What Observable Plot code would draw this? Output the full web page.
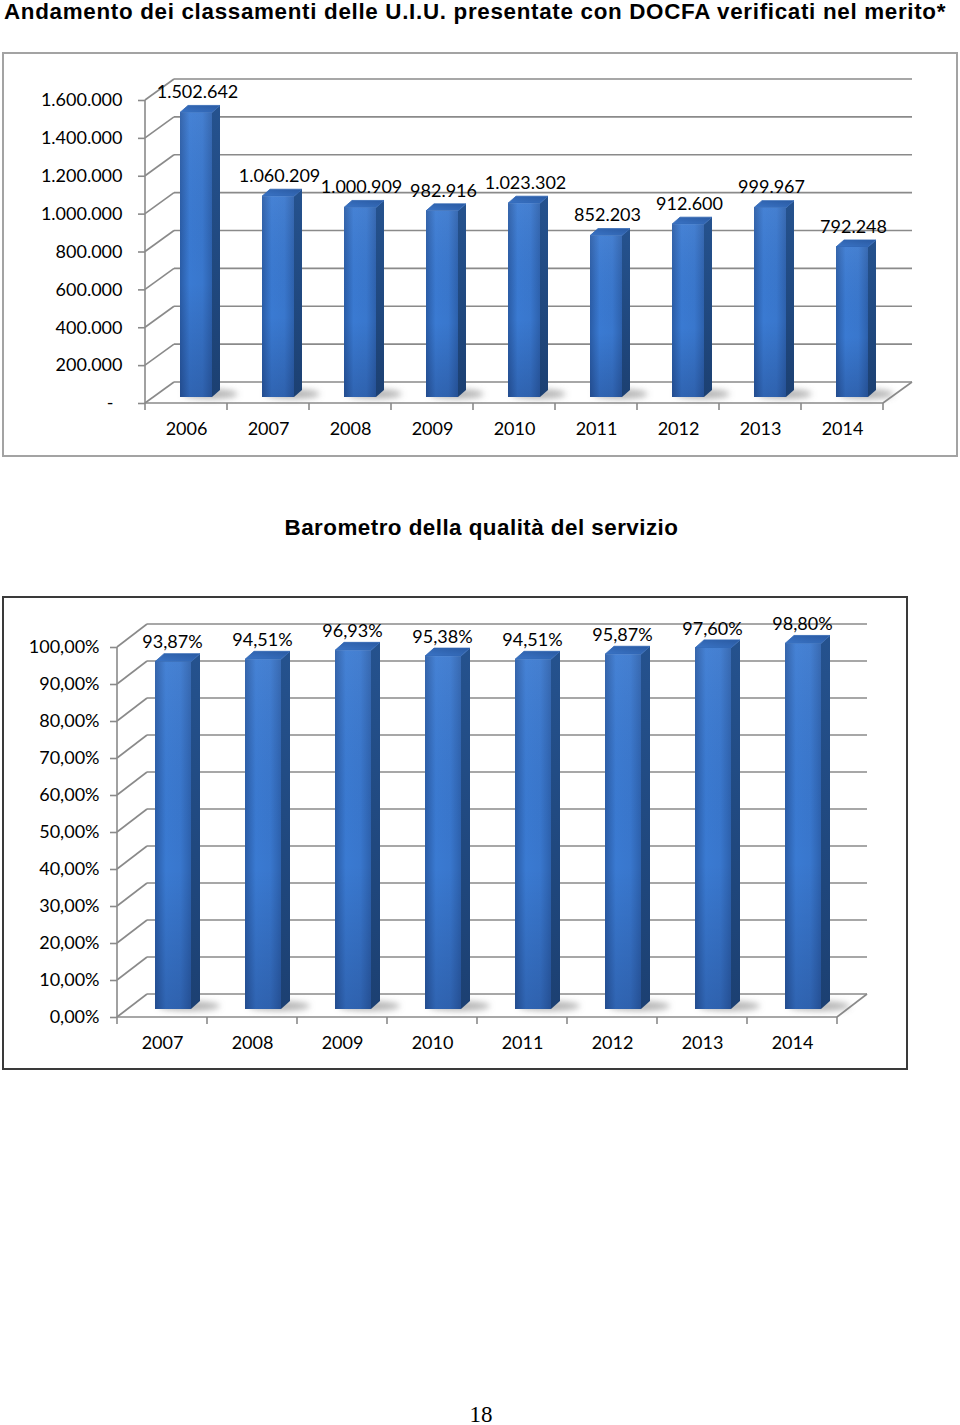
<!DOCTYPE html>
<html><head><meta charset="utf-8">
<script src="https://cdn.jsdelivr.net/npm/d3@7"></script>
<script src="https://cdn.jsdelivr.net/npm/@observablehq/plot@0.6"></script>
<style>
html,body{margin:0;padding:0;background:#fff}
body{width:960px;height:1425px;position:relative;overflow:hidden}
.abs{position:absolute}
.title{font-family:"Liberation Sans",Arial,sans-serif;font-weight:bold;font-size:22.4px;line-height:24px;white-space:nowrap;color:#000}
.box{pointer-events:none;z-index:2}
</style></head><body>
<svg width="0" height="0" style="position:absolute">
<defs>
<linearGradient id="gFront" x1="0" x2="1" y1="0" y2="0">
<stop offset="0" stop-color="#2a5ca6"/>
<stop offset="0.3" stop-color="#3a7ad2"/>
<stop offset="0.7" stop-color="#3977cd"/>
<stop offset="1" stop-color="#2d61ad"/>
</linearGradient>
<linearGradient id="gShade" x1="0" x2="0" y1="0" y2="1">
<stop offset="0" stop-color="#ffffff" stop-opacity="0.06"/>
<stop offset="0.6" stop-color="#000020" stop-opacity="0"/>
<stop offset="1" stop-color="#000020" stop-opacity="0.18"/>
</linearGradient>
<linearGradient id="gSide" x1="0" x2="0" y1="0" y2="1">
<stop offset="0" stop-color="#25528e"/>
<stop offset="1" stop-color="#1c4072"/>
</linearGradient>
<linearGradient id="gTop" x1="0" x2="1" y1="1" y2="0">
<stop offset="0" stop-color="#3a74c6"/>
<stop offset="1" stop-color="#2a5aa2"/>
</linearGradient>
<filter id="fBlur" x="-60%" y="-200%" width="220%" height="500%"><feGaussianBlur stdDeviation="3"/></filter>
</defs>
</svg>

<div class="abs title" style="left:4px;top:0px;letter-spacing:0.68px">Andamento dei classamenti delle U.I.U. presentate con DOCFA verificati nel merito*</div>
<div id="c1" class="abs" style="left:0;top:50px"></div>
<div class="abs box" style="left:2px;top:52px;width:952px;height:401px;border:2px solid #a3a3a3"></div>

<div class="abs title" style="left:0;width:963px;text-align:center;top:516px;letter-spacing:0.47px">Barometro della qualità del servizio</div>
<div id="c2" class="abs" style="left:0;top:590px"></div>
<div class="abs box" style="left:2px;top:596px;width:902px;height:470px;border:2px solid #3a3a3a"></div>

<div class="abs" style="left:0;width:962px;text-align:center;top:1403px;font-family:'Liberation Serif','Times New Roman',serif;font-size:23px;line-height:23px">18</div>

<script>
// ---------- data ----------
const years1 = ["2006","2007","2008","2009","2010","2011","2012","2013","2014"];
const classamenti = [1502642, 1060209, 1000909, 982916, 1023302, 852203, 912600, 999967, 792248];
const yTicks1 = [0, 200000, 400000, 600000, 800000, 1000000, 1200000, 1400000, 1600000];

const years2 = ["2007","2008","2009","2010","2011","2012","2013","2014"];
const barometro = [0.9387, 0.9451, 0.9693, 0.9538, 0.9451, 0.9587, 0.9760, 0.9880];
const yTicks2 = [0, 0.1, 0.2, 0.3, 0.4, 0.5, 0.6, 0.7, 0.8, 0.9, 1.0];

// ---------- formats ----------
const loc = d3.formatLocale({decimal: ",", thousands: ".", grouping: [3], currency: ["€", ""]});
const fmtInt = loc.format(",d");
const fmtPct = loc.format(".2%");
const fmtTick1 = v => v === 0 ? "-\u2002" : fmtInt(v);

const GRID = "#8a8a8a";

// 3D wall, floor and axis lines drawn from the plot's scales
function frame3d(ticks, wall) {
  return (index, scales, values, dimensions) => {
    const {width, marginLeft, marginRight} = dimensions;
    const x0 = marginLeft, x1 = width - marginRight;
    const y = scales.y, xs = scales.x;
    const [dx, dy] = wall;
    const g = d3.create("svg:g").attr("stroke", GRID).attr("stroke-width", 1.6).attr("fill", "none");
    const y0 = y(0);
    for (const t of ticks) {
      g.append("line").attr("x1", x0 + dx).attr("x2", x1 + dx).attr("y1", y(t) + dy).attr("y2", y(t) + dy);
      g.append("line").attr("x1", x0).attr("y1", y(t)).attr("x2", x0 + dx).attr("y2", y(t) + dy);
    }
    g.append("line").attr("x1", x0).attr("x2", x0).attr("y1", y(ticks[ticks.length - 1])).attr("y2", y0);
    g.append("line").attr("x1", x0).attr("x2", x1).attr("y1", y0).attr("y2", y0);
    g.append("line").attr("x1", x1).attr("y1", y0).attr("x2", x1 + dx).attr("y2", y0 + dy);
    for (const d of xs.domain()) {
      const xx = xs(d);
      g.append("line").attr("x1", xx).attr("x2", xx).attr("y1", y0).attr("y2", y0 + 7);
    }
    g.append("line").attr("x1", x1).attr("x2", x1).attr("y1", y0).attr("y2", y0 + 7);
    return g.node();
  };
}

// floor shadows of bars
function shadows3d(data, barWidth, offset) {
  return (index, scales) => {
    const xs = scales.x, y = scales.y, bw = xs.bandwidth();
    const g = d3.create("svg:g").attr("filter", "url(#fBlur)");
    for (const d of data) {
      const cx = xs(d.cat) + bw / 2 + offset[0];
      const yb = y(0) + offset[1];
      g.append("ellipse").attr("cx", cx + barWidth * 0.45).attr("cy", yb - 3)
        .attr("rx", barWidth * 0.85).attr("ry", 5).attr("fill", "#7a7a7a").attr("fill-opacity", 0.55);
    }
    return g.node();
  };
}

// side and top faces of the 3D columns
function faces3d(data, barWidth, offset, depth) {
  return (index, scales) => {
    const xs = scales.x, y = scales.y, bw = xs.bandwidth();
    const [ddx, ddy] = depth;
    const g = d3.create("svg:g");
    for (const d of data) {
      const cx = xs(d.cat) + bw / 2 + offset[0];
      const l = cx - barWidth / 2, r = cx + barWidth / 2;
      const yt = y(d.value) + offset[1], yb = y(0) + offset[1];
      g.append("polygon")
        .attr("points", [[r, yt], [r + ddx, yt + ddy], [r + ddx, yb + ddy], [r, yb]].map(p => p.join(",")).join(" "))
        .attr("fill", "url(#gSide)");
      g.append("polygon")
        .attr("points", [[l, yt], [r, yt], [r + ddx, yt + ddy], [l + ddx, yt + ddy]].map(p => p.join(",")).join(" "))
        .attr("fill", "url(#gTop)").attr("stroke", "#2f65b2").attr("stroke-width", 0.8).attr("stroke-linejoin", "round");
    }
    return g.node();
  };
}

function chart({cats, vals, ticks, domain, tickFormat, labelFormat, width, height, margins, wall, barWidth, offset, depth, labelDy, labelDx, tickPadding}) {
  const data = cats.map((c, i) => ({cat: c, value: vals[i]}));
  const inset = ((width - margins[1] - margins[3]) / cats.length - barWidth) / 2;
  return Plot.plot({
    width, height,
    marginTop: margins[0], marginRight: margins[1], marginBottom: margins[2], marginLeft: margins[3],
    style: {fontFamily: "Lato, 'Open Sans', sans-serif", fontSize: "18px", color: "#000", background: "transparent", overflow: "visible"},
    x: {type: "band", domain: cats, padding: 0, label: null},
    y: {domain, label: null},
    marks: [
      frame3d(ticks, wall),
      shadows3d(data, barWidth, offset),
      faces3d(data, barWidth, offset, depth),
      Plot.barY(data, {x: "cat", y: "value", fill: "url(#gFront)", insetLeft: inset, insetRight: inset, dx: offset[0], dy: offset[1]}),
      Plot.barY(data, {x: "cat", y: "value", fill: "url(#gShade)", insetLeft: inset, insetRight: inset, dx: offset[0], dy: offset[1]}),
      Plot.text(data, {x: "cat", y: "value", text: d => labelFormat(d.value), dx: labelDx, dy: labelDy, fill: "#000"}),
      Plot.axisY({ticks, tickFormat, tickSize: 7, tickPadding, stroke: GRID, strokeWidth: 1.6, label: null}),
      Plot.axisX({tickSize: 0, tickPadding: 19, label: null})
    ]
  });
}

document.getElementById("c1").append(chart({
  cats: years1, vals: classamenti, ticks: yTicks1, domain: [0, 1600000],
  tickFormat: fmtTick1, labelFormat: fmtInt,
  width: 960, height: 410, margins: [50, 77, 57, 145],
  wall: [29, -21], barWidth: 32, offset: [10, -6], depth: [8, -7],
  labelDx: 11, labelDy: -26.5, tickPadding: 16
}));

document.getElementById("c2").append(chart({
  cats: years2, vals: barometro, ticks: yTicks2, domain: [0, 1],
  tickFormat: fmtPct, labelFormat: fmtPct,
  width: 960, height: 490, margins: [57, 123, 63, 117],
  wall: [30, -23], barWidth: 36, offset: [11, -8], depth: [9, -8],
  labelDx: 10, labelDy: -27.5, tickPadding: 11
}));
</script>
</body></html>
